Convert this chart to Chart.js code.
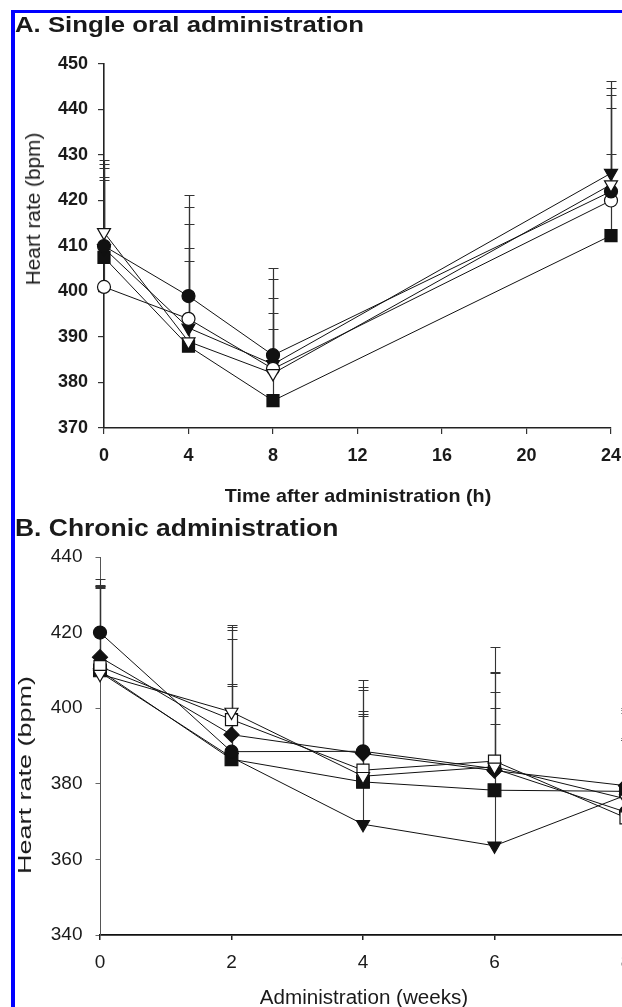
<!DOCTYPE html>
<html><head><meta charset="utf-8">
<script src="https://cdn.jsdelivr.net/npm/chart.js@4.4.0/dist/chart.umd.min.js"></script>
<style>
html,body{margin:0;padding:0;overflow:hidden;background:#fff;width:622px;height:1007px;position:relative;}
#frame{position:absolute;left:11px;top:10px;width:720px;height:1100px;border-left:4px solid #0000ff;border-top:3px solid #0000ff;}
canvas{position:absolute;}
.t{position:absolute;white-space:nowrap;font-family:"Liberation Sans",Arial,sans-serif;color:#1a1a1a;line-height:1;}
</style></head><body>
<div id="frame"></div>
<canvas id="cA" width="640" height="480" style="left:0;top:0"></canvas>
<canvas id="cB" width="660" height="507" style="left:0;top:500px"></canvas>
<div class="t" style="left:15px;top:14px;font-size:22px;font-weight:bold;transform-origin:0 0;transform:scaleX(1.17)">A. Single oral administration</div>
<div class="t" style="left:33px;top:209px;font-size:20px;transform:translate(-50%,-50%) rotate(-90deg) scaleX(1.04)">Heart rate (bpm)</div>
<div class="t" style="left:358px;top:486px;font-size:19px;font-weight:bold;transform:translateX(-50%) scaleX(1.04)">Time after administration (h)</div>
<div class="t" style="left:15px;top:517px;font-size:23px;font-weight:bold;transform-origin:0 0;transform:scaleX(1.15)">B. Chronic administration</div>
<div class="t" style="left:25px;top:775px;font-size:18px;transform:translate(-50%,-50%) rotate(-90deg) scaleX(1.5)">Heart rate (bpm)</div>
<div class="t" style="left:364px;top:987px;font-size:20px;transform:translateX(-50%) scaleX(1.03)">Administration (weeks)</div>
<script>
// ---------- Panel A: single oral administration ----------
const timeH = [0, 4, 8, 24];
const xTicksA = [0, 4, 8, 12, 16, 20, 24];
const yTicksA = [370, 380, 390, 400, 410, 420, 430, 440, 450];
const aFilledCircle = [410, 399, 386, 422];
const aOpenCircle   = [401, 394, 383, 420];
const aFilledTri    = [409.5, 392, 384, 426];
const aOpenTri      = [413, 389, 382, 423.5];
const aFilledSquare = [407.5, 388, 376, 412.3];
const aFilledCircleTop = [428, 418.5, 402.7, 443.2];
const aOpenCircleTop   = [424.5, 414.8, 398.6, 440.3];
const aFilledTriTop    = [428.9, 409.6, 405.1, 446.3];
const aOpenTriTop      = [427.1, 421.1, 395.2, 444.7];
const aFilledSquareTop = [425.2, 406.7, 391.8, 430.2];

// ---------- Panel B: chronic administration ----------
const weeks = [0, 2, 4, 6, 8];
const xTicksB = [0, 2, 4, 6, 8];
const yTicksB = [340, 360, 380, 400, 420, 440];
const bFilledCircle  = [420, 388.5, 388.6, 384, 372.5];
const bFilledDiamond = [413.5, 393, 388, 383.5, 379.5];
const bOpenSquare    = [411, 397, 383.6, 386, 371];
const bOpenTri       = [409, 399, 382, 384.5, 376];
const bFilledSquare  = [410, 386.5, 380.5, 378.3, 378];
const bFilledTri     = [409.5, 387, 369.3, 363.6, 377];
const bFilledCircleTop  = [434.1, 406.5, 404.9, 409.7, 391.7];
const bFilledDiamondTop = [432.6, 406, 399.2, 404.2, 398.8];
const bOpenSquareTop    = [432.2, 421.5, 407.4, 416.1, 400];
const bOpenTriTop       = [431.8, 422.1, 397.9, 409.3, 392];
const bFilledSquareTop  = [432.4, 418.3, 398.5, 400.1, 391.5];
const bFilledTriTop     = [432.0, 420.7, 405.5, 395.9, 399.5];

const FAMILY = '"Liberation Sans", Arial, sans-serif';

const errPlugin = {
  id: 'errbars',
  beforeDatasetsDraw(chart, args, opts) {
    const ctx = chart.ctx, x = chart.scales.x, y = chart.scales.y;
    ctx.save();
    ctx.strokeStyle = opts.color; ctx.lineWidth = opts.width;
    chart.data.datasets.forEach(ds => {
      ds.errTop.forEach((top, i) => {
        const px = Math.round(x.getPixelForValue(ds.data[i].x)) + 0.5;
        const py = y.getPixelForValue(ds.data[i].y);
        const pt = Math.round(y.getPixelForValue(top)) + 0.5;
        ctx.beginPath();
        ctx.moveTo(px, py); ctx.lineTo(px, pt);
        ctx.moveTo(px - opts.cap, pt); ctx.lineTo(px + opts.cap, pt);
        ctx.stroke();
      });
    });
    ctx.restore();
  }
};

function series(xs, ys, tops, style, filled, radius) {
  return {
    data: xs.map((v, i) => ({x: v, y: ys[i]})),
    errTop: tops,
    borderColor: '#111', borderWidth: 1, tension: 0, clip: false,
    pointStyle: style === 'triDown' ? 'triangle' : style,
    rotation: style === 'triDown' ? 180 : 0,
    pointRadius: radius, pointHoverRadius: radius,
    pointBackgroundColor: filled ? '#111' : '#fff',
    pointBorderColor: '#111', pointBorderWidth: 1.2
  };
}

function setTicks(arr) { return s => { s.ticks = arr.map(v => ({value: v})); }; }

new Chart(document.getElementById('cA'), {
  type: 'line',
  data: { datasets: [
    series(timeH, aOpenTri, aOpenTriTop, 'triDown', false, 7.5),
    series(timeH, aFilledCircle, aFilledCircleTop, 'circle', true, 6.5),
    series(timeH, aOpenCircle, aOpenCircleTop, 'circle', false, 6.5),
    series(timeH, aFilledTri, aFilledTriTop, 'triDown', true, 7.5),
    series(timeH, aFilledSquare, aFilledSquareTop, 'rect', true, 8.5)
  ]},
  options: {
    responsive: false, animation: false, devicePixelRatio: 1,
    layout: {padding: {left: 0, top: 64, right: 29, bottom: 0}},
    plugins: {legend: {display: false}, tooltip: {enabled: false},
      errbars: {color: '#333', width: 1.2, cap: 5}},
    scales: {
      x: {type: 'linear', min: 0, max: 24, afterBuildTicks: setTicks(xTicksA),
        afterFit: s => { s.height = 52; },
        grid: {drawOnChartArea: false, drawTicks: true, tickLength: 6, color: '#333', lineWidth: 1.2},
        border: {display: true, color: '#222', width: 1.6},
        ticks: {padding: 11, color: '#1a1a1a', maxRotation: 0, autoSkip: false,
          font: {family: FAMILY, size: 18, weight: 'bold'}}},
      y: {type: 'linear', min: 370, max: 450, afterBuildTicks: setTicks(yTicksA),
        afterFit: s => { s.width = 104; },
        grid: {drawOnChartArea: false, drawTicks: true, tickLength: 6, color: '#333', lineWidth: 1.2},
        border: {display: true, color: '#222', width: 1.6},
        ticks: {padding: 10, color: '#1a1a1a', autoSkip: false,
          font: {family: FAMILY, size: 18, weight: 'bold'}}}
    }
  },
  plugins: [errPlugin]
});

new Chart(document.getElementById('cB'), {
  type: 'line',
  data: { datasets: [
    series(weeks, bOpenTri, bOpenTriTop, 'triDown', false, 7.5),
    series(weeks, bOpenSquare, bOpenSquareTop, 'rect', false, 8.5),
    series(weeks, bFilledCircle, bFilledCircleTop, 'circle', true, 6.5),
    series(weeks, bFilledDiamond, bFilledDiamondTop, 'rectRot', true, 7.5),
    series(weeks, bFilledSquare, bFilledSquareTop, 'rect', true, 9),
    series(weeks, bFilledTri, bFilledTriTop, 'triDown', true, 7.5)
  ]},
  options: {
    responsive: false, animation: false, devicePixelRatio: 1,
    layout: {padding: {left: 0, top: 57, right: 34, bottom: 0}},
    plugins: {legend: {display: false}, tooltip: {enabled: false},
      errbars: {color: '#333', width: 1.1, cap: 5}},
    scales: {
      x: {type: 'linear', min: 0, max: 8, afterBuildTicks: setTicks(xTicksB),
        afterFit: s => { s.height = 72; },
        grid: {drawOnChartArea: false, drawTicks: true, tickLength: 5, color: '#222', lineWidth: 1.5},
        border: {display: true, color: '#111', width: 1.8},
        ticks: {padding: 11.5, color: '#1a1a1a', maxRotation: 0, autoSkip: false,
          font: {family: FAMILY, size: 19}}},
      y: {type: 'linear', min: 340, max: 440, afterBuildTicks: setTicks(yTicksB),
        afterFit: s => { s.width = 100; },
        grid: {drawOnChartArea: false, drawTicks: true, tickLength: 4.5, color: '#666', lineWidth: 1},
        border: {display: true, color: '#555', width: 1},
        ticks: {padding: 13, color: '#1a1a1a', autoSkip: false,
          font: {family: FAMILY, size: 19}}}
    }
  },
  plugins: [errPlugin]
});
</script>
</body></html>
